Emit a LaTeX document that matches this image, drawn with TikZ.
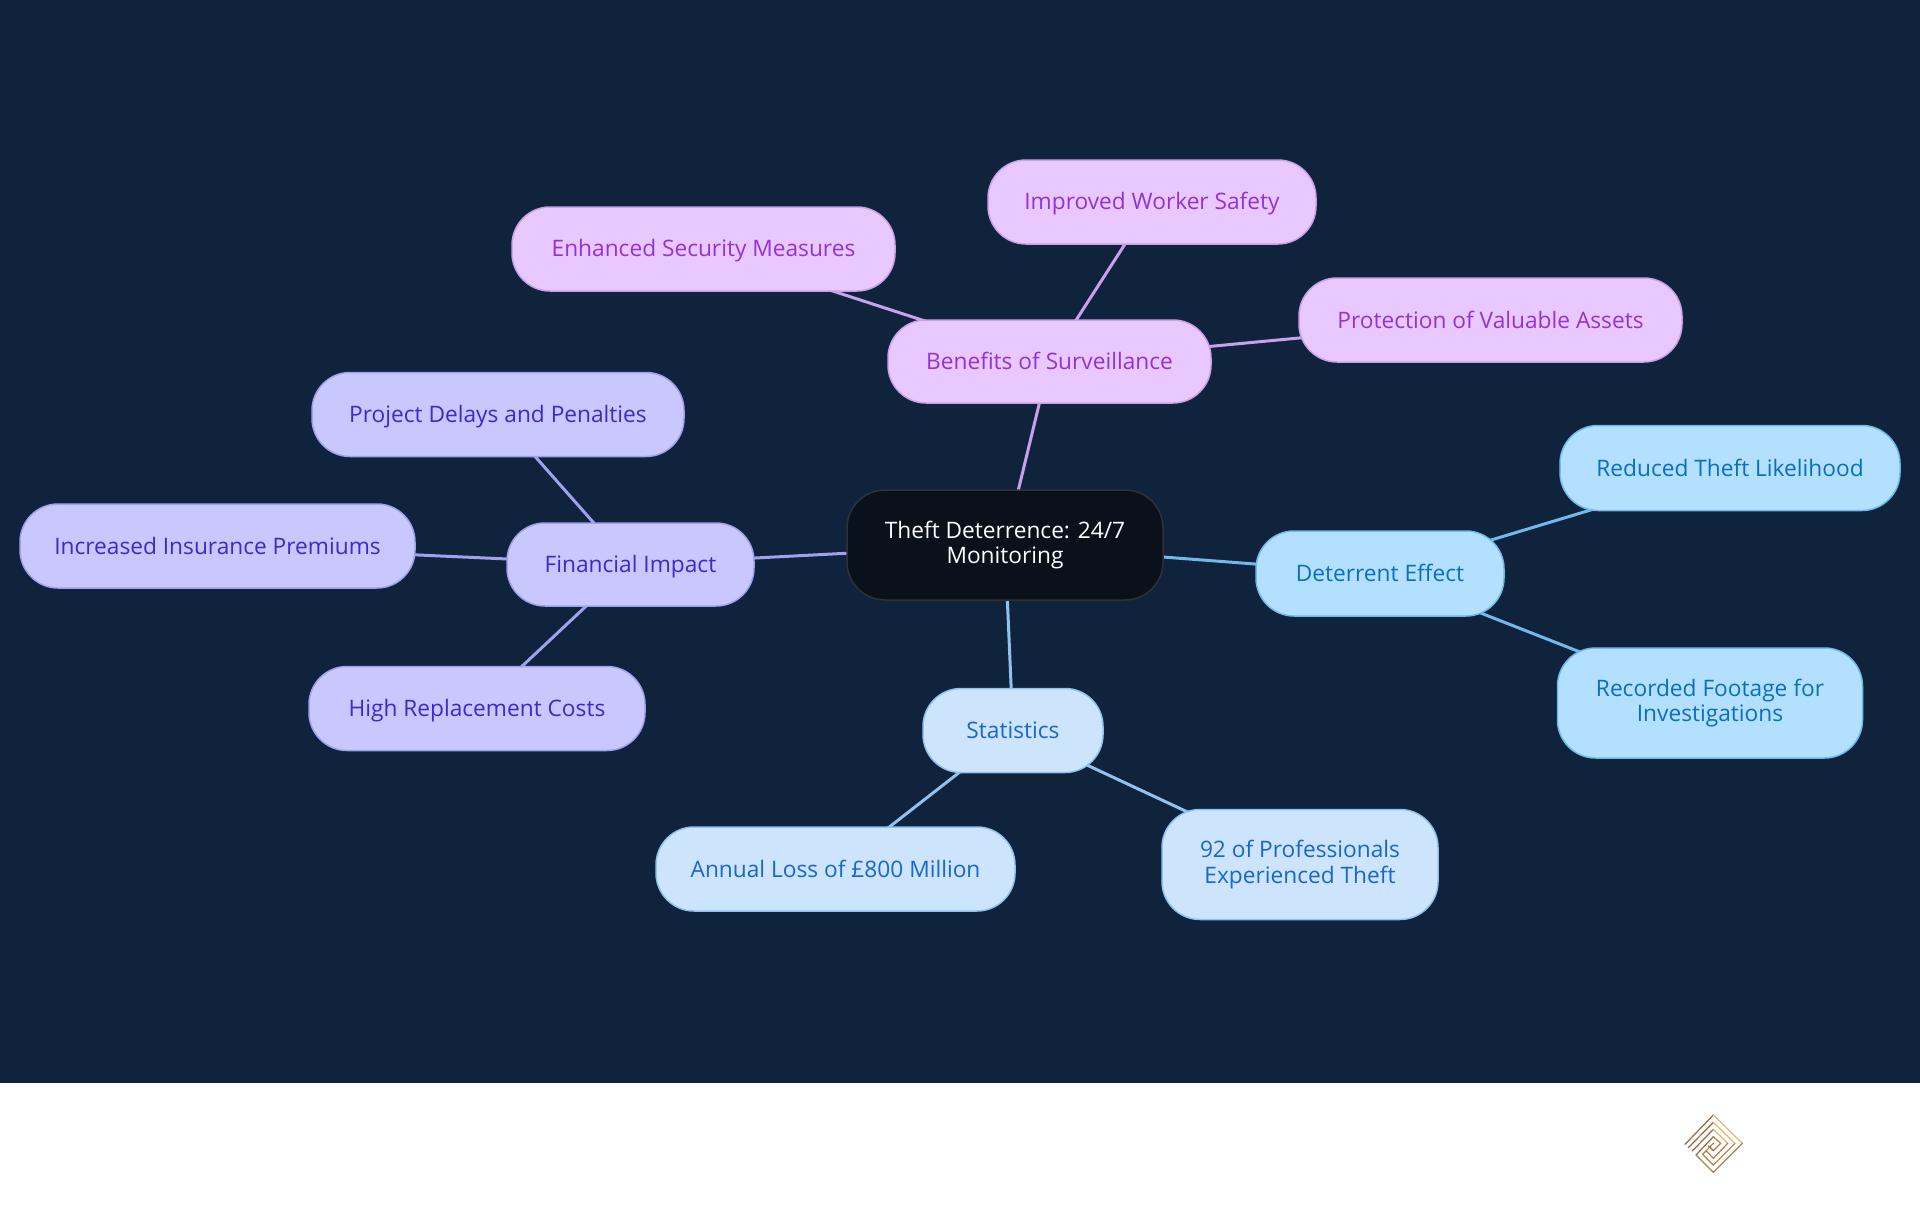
\documentclass[tikz,border=0pt]{standalone}
\usepackage{fontspec}
\setmainfont{Open Sans}
\pgfdeclarelayer{edges}
\pgfsetlayers{edges,main}
\definecolor{pagebg}{HTML}{0F233C}
\definecolor{rootfill}{HTML}{0A111B}
\definecolor{rootline}{HTML}{2E3236}
\definecolor{detfill}{HTML}{B3E0FF}
\definecolor{detline}{HTML}{70B9EA}
\definecolor{dettext}{HTML}{0A6FC2}
\definecolor{statfill}{HTML}{CDE4FD}
\definecolor{statline}{HTML}{93C1EE}
\definecolor{stattext}{HTML}{1A66CC}
\definecolor{finfill}{HTML}{C8C8FE}
\definecolor{finline}{HTML}{A0A0F0}
\definecolor{fintext}{HTML}{3A2BCC}
\definecolor{benfill}{HTML}{E8C8FE}
\definecolor{benline}{HTML}{C9A0EA}
\definecolor{bentext}{HTML}{9333D6}
\definecolor{goldA}{HTML}{96683A}
\definecolor{goldB}{HTML}{E3B76F}
\definecolor{goldC}{HTML}{B08048}
\newcommand{\boxstrut}{\rule[-4.7pt]{0pt}{25.4pt}}
\tikzset{
  x=1pt,y=-1pt,
  box/.style={rectangle,rounded corners=38pt,line width=1.5pt,inner sep=0pt,align=center,
    font=\fontsize{22.7}{25.4}\selectfont,
    execute at begin node=\boxstrut,execute at end node=\boxstrut},
  rootbox/.style={box,fill=rootfill,draw=rootline,text=white},
  detbox/.style={box,fill=detfill,draw=detline,text=dettext},
  statbox/.style={box,fill=statfill,draw=statline,text=stattext},
  finbox/.style={box,fill=finfill,draw=finline,text=fintext},
  benbox/.style={box,fill=benfill,draw=benline,text=bentext},
  link/.style={line width=3pt},
  sz/.style 2 args={minimum width=#1 pt,minimum height=#2 pt},
  logoline/.style={line width=1.2pt,line cap=round},
}
\begin{document}
\begin{tikzpicture}
\useasboundingbox (0,0) rectangle (1920,1215);
\begin{pgfonlayer}{edges}
\fill[white] (0,0) rectangle (1920,1215);
\fill[pagebg] (0,0) rectangle (1920,1082.5);
\end{pgfonlayer}

\node[rootbox,sz={316}{110}] (root) at (1005,545) {Theft Deterrence: 24/7\\Monitoring};

\node[benbox,sz={323}{83}] (ben) at (1049.5,361.5) {Benefits of Surveillance};
\node[benbox,sz={328}{84}] (ben1) at (1152,202) {Improved Worker Safety};
\node[benbox,sz={383}{84}] (ben2) at (703.5,249) {Enhanced Security Measures};
\node[benbox,sz={383}{84}] (ben3) at (1490.5,320) {Protection of Valuable Assets};

\node[finbox,sz={247}{83}] (fin) at (630.5,564.5) {Financial Impact};
\node[finbox,sz={372}{84}] (fin1) at (498,414.5) {Project Delays and Penalties};
\node[finbox,sz={395}{84}] (fin2) at (217.5,546) {Increased Insurance Premiums};
\node[finbox,sz={336}{84}] (fin3) at (477,708.5) {High Replacement Costs};

\node[detbox,sz={248}{85}] (det) at (1380,573.5) {Deterrent Effect};
\node[detbox,sz={340}{85}] (det1) at (1730,468) {Reduced Theft Likelihood};
\node[detbox,sz={305}{110}] (det2) at (1710,703) {Recorded Footage for\\Investigations};

\node[statbox,sz={180}{84}] (stat) at (1013,730.5) {Statistics};
\node[statbox,sz={359}{84}] (stat1) at (835.5,869) {Annual Loss of £800 Million};
\node[statbox,sz={276}{110}] (stat2) at (1300,864.5) {92 of Professionals\\Experienced Theft};

\begin{pgfonlayer}{edges}
\draw[link,benline] (root.center) -- (ben.center);
\draw[link,benline] (ben.center) -- (ben1.center);
\draw[link,benline] (ben.center) -- (ben2.center);
\draw[link,benline] (ben.center) -- (ben3.center);
\draw[link,finline] (root.center) -- (fin.center);
\draw[link,finline] (fin.center) -- (fin1.center);
\draw[link,finline] (fin.center) -- (fin2.center);
\draw[link,finline] (fin.center) -- (fin3.center);
\draw[link,detline] (root.center) -- (det.center);
\draw[link,detline] (det.center) -- (det1.center);
\draw[link,detline] (det.center) -- (det2.center);
\draw[link,statline] (root.center) -- (stat.center);
\draw[link,statline] (stat.center) -- (stat1.center);
\draw[link,statline] (stat.center) -- (stat2.center);
\end{pgfonlayer}

% logo: three-armed diamond spiral (crop coordinates, 3 units per pixel)
\begin{scope}[shift={(1680,1110)},x=0.3333pt,y=-0.3333pt,logoline]
\draw[goldA] (15,103) -- (100,15);
\draw[goldB] (100,15) -- (187,100);
\draw[goldC] (187,100) -- (100,187) -- (48,135);
\draw[goldA] (48,135) -- (100,80);
\draw[goldC] (100,80) -- (122,100) -- (100,122);
\draw[goldA] (100,122) -- (85,107);
\draw[goldA] (25,113) -- (100,37);
\draw[goldB] (100,37) -- (165,100);
\draw[goldC] (165,100) -- (100,165) -- (68,133);
\draw[goldC] (68,133) -- (100,100);
\draw[goldA] (37,123) -- (100,58);
\draw[goldB] (100,58) -- (143,100);
\draw[goldC] (143,100) -- (100,145) -- (78,122);
\end{scope}
\end{tikzpicture}
\end{document}
